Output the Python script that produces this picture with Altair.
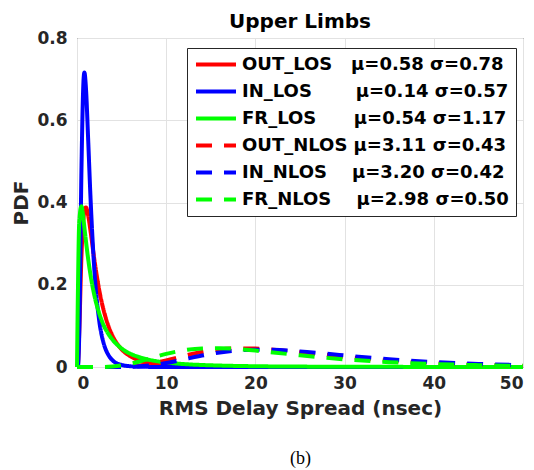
import altair as alt
import pandas as pd

# RMS delay spread sample positions (ns)
X_NS = [0, 0.1, 0.25, 0.5, 0.75, 0.83, 1, 1.25, 1.5, 2, 2.5, 3, 3.5, 4, 5, 6, 7, 8,
        10, 12, 14, 16, 18, 20, 22, 25, 28, 31, 35, 40, 45, 50]

# PDF values
OUT_LOS = [0, 0.0055, 0.085, 0.270, 0.367, 0.380, 0.388, 0.369, 0.333, 0.253, 0.186,
           0.137, 0.101, 0.075, 0.043, 0.026, 0.016, 0.010, 0.0045, 0.0022, 0.0011,
           0.0006, 0.00035, 0.0002, 0.0001, 0.00007, 0.00003, 0, 0, 0, 0, 0]
IN_LOS = [0, 0.0007, 0.078, 0.481, 0.704, 0.716, 0.679, 0.554, 0.419, 0.219, 0.111,
          0.057, 0.030, 0.016, 0.005, 0.0018, 0.0007, 0.0003, 0.0001, 0, 0, 0, 0, 0,
          0, 0, 0, 0, 0, 0, 0, 0]
FR_LOS = [0, 0.178, 0.352, 0.391, 0.354, 0.339, 0.307, 0.263, 0.226, 0.169, 0.130,
          0.101, 0.081, 0.066, 0.045, 0.032, 0.024, 0.018, 0.011, 0.0071, 0.0049,
          0.0035, 0.0025, 0.0019, 0.0014, 0.0010, 0.0007, 0.0005, 0.00035, 0.00023,
          0.00015, 0.0001]
OUT_NLOS = [0, 0, 0, 0, 0, 0, 0, 0, 0, 0, 0, 0, 0, 0.0001, 0.0004, 0.0014, 0.0034,
            0.0066, 0.0159, 0.0269, 0.0364, 0.0426, 0.0452, 0.0448, 0.0421, 0.0359,
            0.0290, 0.0225, 0.0155, 0.0094, 0.0056, 0.0033]
IN_NLOS = [0, 0, 0, 0, 0, 0, 0, 0, 0, 0, 0, 0, 0, 0.00002, 0.00015, 0.0006, 0.0016,
           0.0034, 0.0097, 0.0186, 0.0278, 0.0354, 0.0402, 0.0422, 0.0418, 0.0380,
           0.0323, 0.0262, 0.0190, 0.0121, 0.0074, 0.0045]
FR_NLOS = [0, 0, 0, 0, 0, 0, 0, 0, 0, 0, 0.00006, 0.0002, 0.0006, 0.0012, 0.0037,
           0.0079, 0.0134, 0.0197, 0.0319, 0.0407, 0.0452, 0.0458, 0.0436, 0.0399,
           0.0354, 0.0285, 0.0222, 0.0170, 0.0118, 0.0073, 0.0045, 0.0028]

SERIES = ["OUT_LOS", "IN_LOS", "FR_LOS", "OUT_NLOS", "IN_NLOS", "FR_NLOS"]
MU = ["0.58", "0.14", "0.54", "3.11", "3.20", "2.98"]
SIGMA = ["0.78", "0.57", "1.17", "0.43", "0.42", "0.50"]
PDF_VALUES = [OUT_LOS, IN_LOS, FR_LOS, OUT_NLOS, IN_NLOS, FR_NLOS]

COLORS = ["#ff0000", "#0000ff", "#00ff00", "#ff0000", "#0000ff", "#00ff00"]
DASHES = [[1, 0], [1, 0], [1, 0], [16, 12], [16, 12], [16, 12]]
GAPS = [3, 7, 6, 1, 4, 4]
NB = "\u00a0"

labels = [f"{s}{NB * g}\u03bc={m} \u03c3={sg}"
          for s, g, m, sg in zip(SERIES, GAPS, MU, SIGMA)]

rows = []
for lab, vals in zip(labels, PDF_VALUES):
    for x, v in zip(X_NS, vals):
        rows.append({"x": x, "pdf": v, "series": lab})
df = pd.DataFrame(rows)

FONT = "DejaVu Sans"
xscale = alt.Scale(domain=[0, 50], nice=False, zero=False)
yscale = alt.Scale(domain=[0, 0.8], nice=False)

lines = alt.Chart(df).mark_line(strokeWidth=4, interpolate="monotone").encode(
    x=alt.X("x:Q", scale=xscale,
            axis=alt.Axis(values=[0, 10, 20, 30, 40, 50], title="RMS Delay Spread (nsec)",
                          labelPadding=8, titlePadding=7, orient="bottom")),
    y=alt.Y("pdf:Q", scale=yscale,
            axis=alt.Axis(values=[0, 0.2, 0.4, 0.6, 0.8], format="~g", title="PDF",
                          labelPadding=10, titlePadding=5)),
    color=alt.Color("series:N", scale=alt.Scale(domain=labels, range=COLORS), title=None),
    strokeDash=alt.StrokeDash("series:N", scale=alt.Scale(domain=labels, range=DASHES), title=None),
)

caption = alt.Chart(df).mark_point(opacity=0).encode(
    x=alt.X("x:Q", scale=xscale,
            axis=alt.Axis(orient="bottom", title="(b)", labels=False, ticks=False, domain=False,
                          grid=False, titleFont="Liberation Serif", titleFontWeight="normal",
                          titleFontSize=18, titleColor="black", titlePadding=82)),
    y=alt.Y("pdf:Q", scale=yscale),
)

chart = alt.layer(lines, caption).resolve_axis(x="independent").properties(
    width=446,
    height=329,
    autosize=alt.AutoSizeParams(type="none"),
    padding={"left": 77, "top": 38, "right": 11, "bottom": 103},
    title=alt.TitleParams("Upper Limbs", font=FONT, fontSize=20, fontWeight="bold",
                          color="black", anchor="middle", offset=-3),
).configure_view(
    stroke="#262626", strokeWidth=1
).configure_axis(
    labelFont=FONT, labelFontWeight="bold", labelFontSize=17, labelColor="#262626",
    titleFont=FONT, titleFontWeight="bold", titleFontSize=20, titleColor="#262626",
    gridColor="#e2e2e2", gridWidth=1, domain=False, ticks=False,
).configure_legend(
    orient="none", legendX=110, legendY=10,
    strokeColor="#262626", fillColor="white", padding=7,
    labelFont=FONT, labelFontWeight="bold", labelFontSize=18, labelColor="black",
    labelLimit=400, symbolType="stroke", symbolSize=1600, symbolStrokeWidth=4,
    rowPadding=8, labelOffset=4, clipHeight=19,
)

chart.save("out.html", embed_options={"renderer": "svg", "actions": False})
